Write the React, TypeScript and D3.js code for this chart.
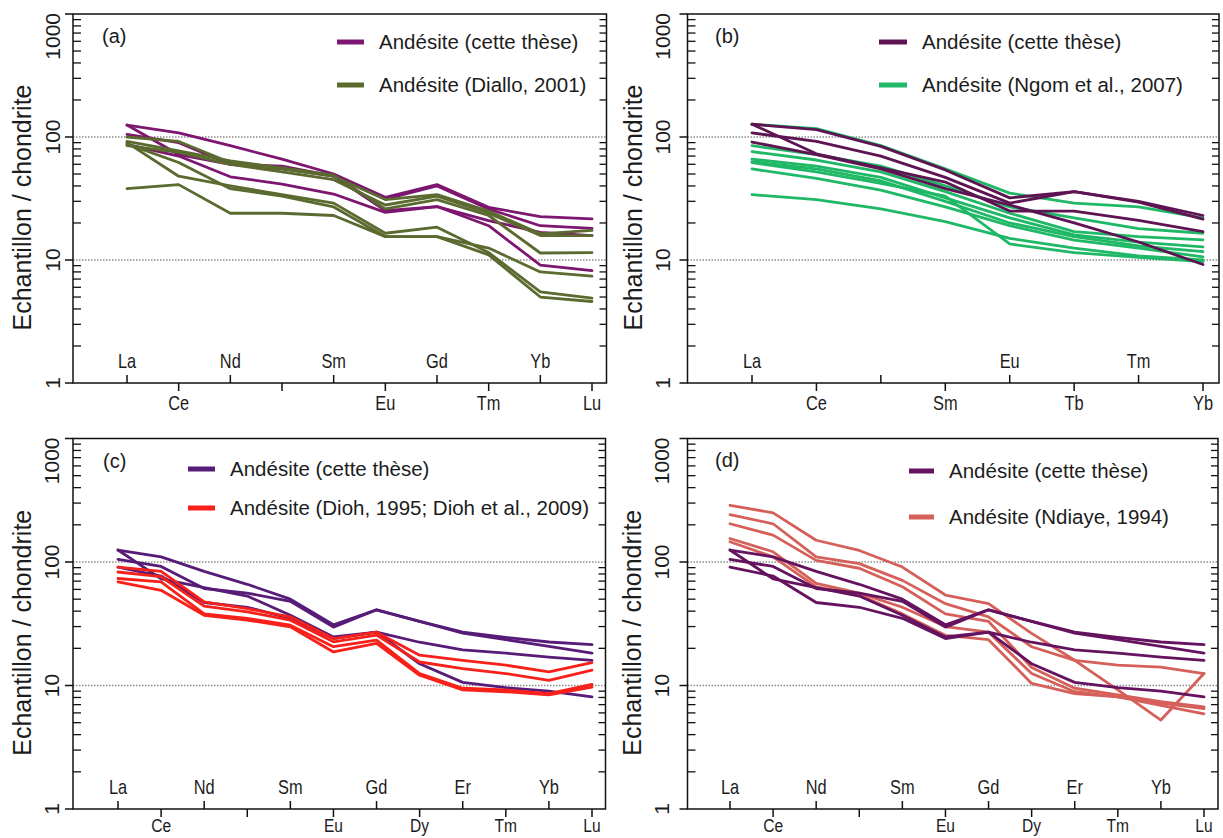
import React from "react";
import * as d3 from "d3";

// ---------- categories (x positions) ----------
const elementsA = ["La", "Ce", "Nd", "", "Sm", "Eu", "Gd", "Tm", "Yb", "Lu"];
const elementsB = ["La", "Ce", "", "Sm", "Eu", "Tb", "Tm", "Yb"];
const elementsCD = ["La", "Ce", "Nd", "", "Sm", "Eu", "Gd", "Dy", "Er", "Tm", "Yb", "Lu"];

const yTickValues = [1, 10, 100, 1000];
const gridValues = [10, 100];

// ---------- series (chondrite normalised) ----------
const thesisA = [
  [125, 108, 85, 66, 50, 32.3, 41, 26.8, 22.5, 21.6],
  [105, 90, 60, 58, 48, 31.3, 40, 26, 19, 18.1],
  [125, 72, 60, 55, 48, 25.2, 27.2, 20.9, 16.8, 15.8],
  [87, 70, 47.5, 41.4, 34.4, 24.4, 27.2, 19, 9.1, 8.2],
];
const dialloA = [
  [38, 41, 24, 24, 23, 15.5, 15.5, 11, 5.0, 4.6],
  [90, 48, 40, 34, 29, 16.5, 18.5, 11.5, 5.5, 4.9],
  [88, 62, 38, 33, 27, 15.5, 15.5, 12.5, 8.0, 7.4],
  [92, 77, 64, 56, 49, 26, 31, 23, 11.4, 11.5],
  [100, 92, 62, 55, 48, 31, 34, 25, 16.3, 17.4],
  [85, 75, 60, 52, 45, 28, 33, 24, 15.8, 15.8],
];

const thesisB = [
  [127, 115, 84, 54, 32, 36, 30, 23],
  [108, 92, 70, 47, 29, 36, 29.5, 21.5],
  [127, 73, 56, 43, 25, 25, 21, 17],
  [91, 72, 55, 38, 28, 20, 14, 9.2],
];
const ngomB = [
  [127, 117, 85, 55, 35, 29, 27, 22],
  [85, 72, 58, 40, 27, 22, 18, 16.5],
  [76, 65, 52, 36, 24, 17, 15.5, 14.6],
  [66, 58, 47, 32, 22, 16, 14, 12.8],
  [63, 55, 44, 30, 20, 15.5, 13, 11.7],
  [55, 46, 37, 27, 19, 14.5, 12.5, 10.6],
  [62, 52, 42, 33, 13.5, 11.5, 10.5, 9.7],
  [34, 31, 26, 20.5, 15, 12.5, 10.8, 10],
];

const thesisCD = [
  [125, 110, 84, 66, 50, 31, 41, 33, 27, 24.5, 22.5, 21.4],
  [105, 92, 61, 56, 48, 29.7, 41, 33, 26.5, 23.5, 20.7, 18.3],
  [125, 73, 62, 53, 37, 24.7, 27, 22.4, 19.4, 18.3, 17, 16],
  [91, 77, 47, 43, 35, 24, 27, 15, 10.6, 9.6, 9.0, 8.1],
];
const diohC = [
  [91, 84, 47.5, 42, 36, 24, 27, 17.6, 16, 14.6, 12.9, 15.3],
  [83, 76, 44, 39.5, 33.8, 22.6, 25.6, 15.5, 13.7, 12.5, 11, 13.3],
  [73.5, 69, 38, 35, 30.8, 20.6, 23.3, 12.5, 9.5, 9.2, 8.6, 10.2],
  [69, 59, 37, 33.8, 29.9, 18.7, 21.9, 12.1, 9.2, 8.9, 8.4, 9.7],
];
const ndiayeD = [
  [288, 250, 150, 124, 91, 54, 46, 26.4, 16, 9.2, 5.25, 12.5],
  [242, 204, 110, 97, 71, 46, 36, 20.6, 16, 14.6, 14.1, 12.5],
  [204, 165, 103, 89, 63, 38, 33, 14, 9.5, 8.4, 7.4, 6.7],
  [155, 121, 67, 56, 43, 30, 27, 12.5, 8.9, 8.1, 7.2, 6.5],
  [146, 110, 63, 54, 38, 25.5, 23.5, 10.4, 8.6, 8.1, 6.9, 5.9],
];

const thesisName = "Andésite (cette thèse)";

type Panel = {
  label: string;
  left: number; right: number; top: number; bottom: number;
  xFirst: number; xLast: number;
  elements: string[];
  thesis: number[][]; thesisColor: string;
  other: number[][]; otherColor: string; otherName: string;
  otherOnTop: boolean;
  lgX1: number; lgX2: number; lgTextX: number; lgY1: number; lgY2: number;
  labelX: number; labelY: number;
  yTickX: number; titleX: number;
};

const panels: Panel[] = [
  {
    label: "(a)", left: 73, right: 606.5, top: 14, bottom: 383,
    xFirst: 127, xLast: 592, elements: elementsA,
    thesis: thesisA, thesisColor: "#7d1670",
    other: dialloA, otherColor: "#5b6a2f", otherName: "Andésite (Diallo, 2001)", otherOnTop: true,
    lgX1: 337, lgX2: 364, lgTextX: 379, lgY1: 42, lgY2: 85,
    labelX: 102, labelY: 43, yTickX: 59.5, titleX: 31,
  },
  {
    label: "(b)", left: 687.5, right: 1219, top: 14, bottom: 383,
    xFirst: 752, xLast: 1203, elements: elementsB,
    thesis: thesisB, thesisColor: "#5e1452",
    other: ngomB, otherColor: "#1fb866", otherName: "Andésite (Ngom et al., 2007)", otherOnTop: false,
    lgX1: 879, lgX2: 907, lgTextX: 922, lgY1: 42, lgY2: 85,
    labelX: 715, labelY: 43, yTickX: 670, titleX: 642,
  },
  {
    label: "(c)", left: 73, right: 605.5, top: 438.5, bottom: 809,
    xFirst: 118, xLast: 592, elements: elementsCD,
    thesis: thesisCD, thesisColor: "#561c78",
    other: diohC, otherColor: "#f7211a", otherName: "Andésite (Dioh, 1995; Dioh et al., 2009)", otherOnTop: true,
    lgX1: 188, lgX2: 215, lgTextX: 230, lgY1: 469, lgY2: 508,
    labelX: 103, labelY: 468, yTickX: 58.5, titleX: 31,
  },
  {
    label: "(d)", left: 687.5, right: 1218, top: 438.5, bottom: 809,
    xFirst: 730, xLast: 1204, elements: elementsCD,
    thesis: thesisCD, thesisColor: "#65125f",
    other: ndiayeD, otherColor: "#d5605a", otherName: "Andésite (Ndiaye, 1994)", otherOnTop: false,
    lgX1: 909, lgX2: 934, lgTextX: 949, lgY1: 471, lgY2: 517,
    labelX: 715, labelY: 467, yTickX: 669, titleX: 641,
  },
];

const FONT = "'Liberation Sans', Arial, Helvetica, sans-serif";
const TEXT = "#1c1c1c";
const PAGE_H = 838;

function PanelView({ p }: { p: Panel }) {
  const n = p.elements.length;
  const x = d3.scaleLinear().domain([0, n - 1]).range([p.xFirst, p.xLast]);
  const y = d3.scaleLog().domain([1, 1000]).range([p.bottom, p.top]);
  const line = d3
    .line<number>()
    .x((_, i) => x(i))
    .y((v) => y(v));

  const minor: number[] = [];
  [1, 10, 100].forEach((dec) => {
    for (let k = 2; k <= 9; k++) minor.push(dec * k);
  });

  const drawSet = (rows: number[][], color: string, key: string) =>
    rows.map((r, i) => (
      <path
        key={key + i}
        d={line(r) || ""}
        fill="none"
        stroke={color}
        strokeWidth={2.8}
        strokeLinejoin="round"
        strokeLinecap="round"
      />
    ));

  const thesisLines = drawSet(p.thesis, p.thesisColor, "t");
  const otherLines = drawSet(p.other, p.otherColor, "o");
  const midY = (p.top + p.bottom) / 2 + 9;
  const lowBase = Math.min(p.bottom + 27, PAGE_H - 6);
  const lowSize = p.bottom + 27 > PAGE_H - 6 ? 19 : 20;

  return (
    <g>
      {gridValues.map((g) => (
        <line
          key={"g" + g}
          x1={p.left}
          x2={p.right}
          y1={y(g)}
          y2={y(g)}
          stroke="#8c8c8c"
          strokeWidth={1.3}
          strokeDasharray="1.5,1.5"
        />
      ))}
      {p.otherOnTop ? thesisLines : otherLines}
      {p.otherOnTop ? otherLines : thesisLines}
      <rect
        x={p.left}
        y={p.top}
        width={p.right - p.left}
        height={p.bottom - p.top}
        fill="none"
        stroke="#111"
        strokeWidth={1.5}
      />
      {yTickValues.map((v) => (
        <line key={"M" + v} x1={p.left - 8} x2={p.left} y1={y(v)} y2={y(v)} stroke="#111" strokeWidth={1.5} />
      ))}
      {minor.map((v) => (
        <g key={"m" + v}>
          <line x1={p.left} x2={p.left + 8} y1={y(v)} y2={y(v)} stroke="#111" strokeWidth={1.3} />
          <line x1={p.right - 7} x2={p.right} y1={y(v)} y2={y(v)} stroke="#111" strokeWidth={1.3} />
        </g>
      ))}
      {yTickValues.map((v) => (
        <text
          key={"yl" + v}
          transform={`translate(${p.yTickX},${v === 1000 ? p.top - 1 : y(v)}) rotate(-90)`}
          textAnchor={v === 1000 ? "end" : "middle"}
          fontFamily={FONT}
          fontSize={21}
          fill={TEXT}
        >
          {v}
        </text>
      ))}
      <text
        transform={`translate(${p.titleX},${midY}) rotate(-90)`}
        textAnchor="middle"
        fontFamily={FONT}
        fontSize={25}
        fill={TEXT}
      >
        Echantillon / chondrite
      </text>
      {p.elements.map((el, i) => {
        const up = i % 2 === 0;
        const xx = x(i);
        return (
          <g key={"x" + i}>
            <line
              x1={xx}
              x2={xx}
              y1={p.bottom}
              y2={up ? p.bottom - 8 : p.bottom + 8}
              stroke="#111"
              strokeWidth={1.5}
            />
            {el && (
              <text
                transform={`translate(${xx},${up ? p.bottom - 15 : lowBase}) scale(0.82,1)`}
                textAnchor="middle"
                fontFamily={FONT}
                fontSize={up ? 20 : lowSize}
                fill={TEXT}
              >
                {el}
              </text>
            )}
          </g>
        );
      })}
      <text x={p.labelX} y={p.labelY} fontFamily={FONT} fontSize={20} fill={TEXT}>
        {p.label}
      </text>
      <line x1={p.lgX1} x2={p.lgX2} y1={p.lgY1} y2={p.lgY1} stroke={p.thesisColor} strokeWidth={5} />
      <text x={p.lgTextX} y={p.lgY1} dy="0.35em" fontFamily={FONT} fontSize={20.5} fill={TEXT}>
        {thesisName}
      </text>
      <line x1={p.lgX1} x2={p.lgX2} y1={p.lgY2} y2={p.lgY2} stroke={p.otherColor} strokeWidth={5} />
      <text x={p.lgTextX} y={p.lgY2} dy="0.35em" fontFamily={FONT} fontSize={20.5} fill={TEXT}>
        {p.otherName}
      </text>
    </g>
  );
}

export default function App() {
  return (
    <div style={{ position: "absolute", left: 0, top: 0, width: 1223, height: 838, background: "#fff" }}>
      <svg width={1223} height={838} viewBox="0 0 1223 838" style={{ display: "block" }}>
        <rect x={0} y={0} width={1223} height={838} fill="#fff" />
        {panels.map((p) => (
          <PanelView key={p.label} p={p} />
        ))}
      </svg>
    </div>
  );
}
